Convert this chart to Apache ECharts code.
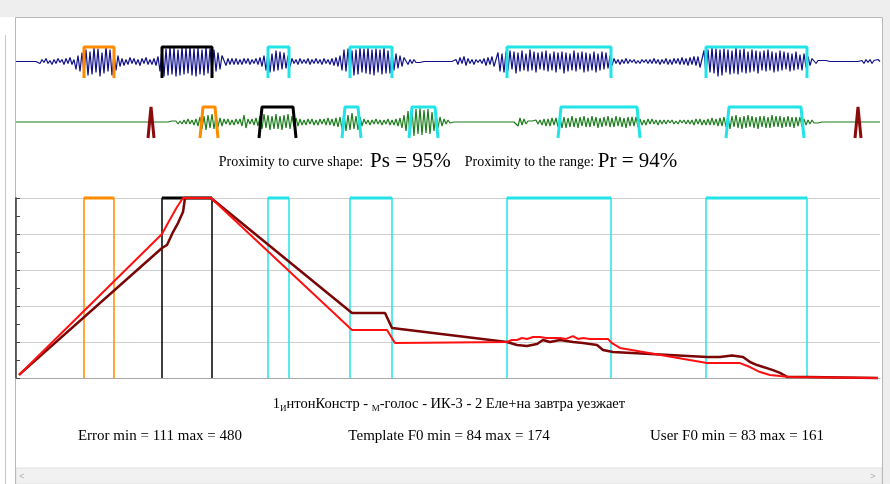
<!DOCTYPE html>
<html>
<head>
<meta charset="utf-8">
<script src="https://cdn.jsdelivr.net/npm/echarts@6/dist/echarts.min.js"></script>
<style>
html,body{margin:0;padding:0;background:#fff;}
#c{width:890px;height:484px;}
</style>
</head>
<body>
<div id="c"></div>
<script>
// ---------- DATA ----------
const X_MAX = 864;
// template waveform (navy), estimated samples
const templateWave = [
0,0,0,0,0,0,0,0,0,0,0,
1,-2,2,-1,3,-2,1,-3,2,-2,3,-1,2,-3,3,-2,4,-3,2,
-8,6,-10,9,-12,12,-14,10,-13,14,-11,13,-15,9,-12,15,-10,12,-14,8,-9,6,-5,
3,-4,2,-3,4,-2,3,-3,2,-4,3,-2,4,-3,2,-3,3,-4,5,
-10,14,-15,13,-14,15,-13,14,-15,12,-14,15,-13,14,-12,15,-14,13,-15,14,-13,12,-14,15,-12,13,-11,12,-10,9,-8,6,
4,-4,3,-3,3,-3,3,-3,2,-3,3,-2,3,-3,2,-2,3,-3,4,-5,6,
-9,10,-11,8,-10,11,-9,10,-8,9,-7,6,-5,
3,-2,2,-3,3,-2,2,-2,3,-3,2,-2,3,-2,2,-3,3,-2,2,-3,3,-4,4,-5,
6,-9,12,-10,13,-12,11,-14,12,-13,14,-11,13,-12,14,-13,12,-14,13,-11,12,-13,14,-12,11,-12,10,-9,8,-7,6,-5,4,
3,-3,2,-2,2,-1,1,-1,1,0,
0,0,0,0,0,0,0,0,0,0,0,0,0,0,0,
2,-3,4,-2,5,-4,3,-2,2,-3,2,-1,2,-2,3,-4,4,-3,5,-5,
-7,9,-10,8,-11,10,-9,11,-8,10,-12,9,-10,11,-9,8,-10,12,-9,10,-11,9,-8,10,-9,11,-10,8,-9,10,-11,9,-8,10,-12,9,-10,8,-9,11,-10,9,-8,10,-11,9,-10,8,-9,10,-11,8,-9,10,-8,9,-7,6,-4,
3,-2,2,-3,2,-2,3,-2,2,-1,2,-2,1,-2,2,-1,2,-2,2,-2,3,-2,2,-3,2,-2,3,-3,2,-3,3,-2,3,-3,4,-3,3,-4,4,-3,5,-4,5,-6,
-8,11,-13,12,-11,14,-12,13,-15,12,-14,13,-11,12,-13,11,-12,14,-13,12,-11,13,-12,10,-11,12,-10,11,-12,10,-9,11,-10,12,-9,10,-11,9,-10,11,-9,10,-8,9,-10,8,-9,10,-8,7,-9,8,-6,5,-4,3,
2,-2,1,-1,1,-1,1,0,0,0,0,0,0,0,0,0,0,0,0,0,0,0,0,0,
1,-2,2,-1,2,-2,1,-1,2,0
];
// user waveform (green), estimated samples
const userWave = [
0,0,0,0,0,0,0,0,0,0,0,0,0,0,0,0,0,0,0,0,0,0,0,0,0,0,0,0,0,0,0,0,0,0,0,0,0,0,0,0,
0,0,0,0,0,0,0,0,0,0,0,0,0,0,0,0,0,0,0,0,0,0,0,0,0,0,0,0,0,0,0,0,0,0,0,0,0,0,
1,-1,1,-2,1,-2,2,-2,3,-2,2,-3,3,-4,
5,-7,6,-8,7,-6,8,-7,6,-5,4,-4,
3,-2,3,-3,2,-3,3,-2,3,-4,7,-6,3,-2,3,-3,4,-4,
6,-7,8,-6,7,-8,6,-7,8,-7,6,-8,7,-6,8,-7,6,-5,4,-4,
3,-3,2,-3,3,-2,3,-3,2,-3,3,-2,3,-3,4,-3,3,-4,4,-5,5,
-7,8,-9,7,-8,9,-7,6,-8,5,-4,
3,-2,2,-3,2,-2,3,-2,2,-3,2,-2,3,-3,2,-3,3,-4,4,-6,7,
-9,11,-13,12,-14,13,-12,14,-13,12,-11,13,-12,10,-9,8,-6,5,
-4,3,-2,2,-1,1,
0,0,0,0,0,0,0,0,0,0,0,0,0,0,0,0,0,0,0,0,0,0,0,0,0,0,0,0,0,0,0,
2,-4,4,-3,3,-2,1,-1,
1,-1,2,-2,2,
-3,3,-4,3,-4,4,-3,4,-5,5,
-6,5,-6,4,-5,6,-5,4,-6,5,-4,6,-5,4,-5,6,-4,5,-6,4,-5,5,-4,6,-5,4,-5,6,-4,5,-5,4,-6,5,-4,5,-4,5,-5,
3,-3,2,-3,3,-2,3,-2,2,-3,2,-2,2,-2,2,-1,2,-2,1,-2,2,-1,2,-2,2,-2,
2,-3,3,-2,3,-3,2,-3,3,-3,4,-3,3,-4,4,-4,5,-5,
6,-7,6,-5,7,-6,5,-7,6,-6,7,-5,6,-6,5,-7,6,-5,6,-6,5,-6,7,-5,6,-5,6,-6,5,-5,6,-5,5,-6,5,-4,5,-5,
3,-3,2,-2,2,-1,1,-1,0,
0,0,0,0,0,0,0,0,0,0,0,0,0,0,0,0,0,0,0,0,0,0,0,0,0,0,0,0,0,0
];
// template segments (start, end) and their colours
const templateSegStart = [68, 146, 252, 334, 491, 690];
const templateSegEnd   = [98, 196, 273, 376, 595, 791];
const segColors = ['#ff8c00', '#000000', '#22e3e8', '#22e3e8', '#22e3e8', '#22e3e8'];
// user segments (start, end)
const userSegStart = [187, 246, 329, 396, 545, 713];
const userSegEnd   = [199, 277, 342, 419, 621, 785];
// user utterance boundary markers
const userMarkers = [135, 842];
// normalized F0 contours (x, value 0..100)
const userF0 = [
[3,1.7],[146,72.2],[151,73.9],[157,81.1],[162,86.1],[167,92.2],[169,100],[195,100],
[336,36.1],[369,36.1],[376,27.8],[491,20],[501,18.3],[511,17.8],[521,18.9],[527,21.1],
[534,20],[544,21.1],[557,20],[567,19.4],[581,18.3],[587,15.6],[597,14.4],[691,11.7],
[704,11.7],[716,12.5],[727,11.7],[734,8.9],[741,7.2],[757,4.4],[764,2.8],[771,0.6],[791,0.6],[862,0]
];
const templateF0 = [
[3,1.7],[146,80],[152,86.1],[161,95],[167,100],[195,100],[336,26.7],[371,26.7],[379,19.4],
[491,20],[496,21.1],[501,21.1],[506,22.2],[511,21.7],[517,22.8],[524,22.8],[530,22.2],
[537,22.2],[544,22.2],[550,21.7],[557,23.3],[562,21.7],[567,22.2],[574,21.7],[581,21.7],
[592,21.7],[596,19.4],[604,16.7],[691,8.3],[724,8.3],[734,6.1],[744,3.3],[754,1.7],[764,1.1],[774,0.6],[862,0]
];
const titleLine = 'Proximity to curve shape:';
const psText = 'Ps = 95%';
const rangeLine = 'Proximity to the range:';
const prText = 'Pr = 94%';
const statsTexts = ['Error min = 111 max = 480', 'Template F0 min = 84 max = 174', 'User F0 min = 83 max = 161'];

// ---------- BUILD ----------
const serif = "'Liberation Serif','Times New Roman',serif";
function wavePts(arr){ const step = X_MAX/(arr.length-1); return arr.map((v,i)=>[i*step, v]); }

const series = [];
series.push({type:'line', xAxisIndex:0, yAxisIndex:0, data:wavePts(templateWave), symbol:'none',
  lineStyle:{color:'#10108a', width:1.2}, silent:true, z:2});
series.push({type:'line', xAxisIndex:1, yAxisIndex:1, data:wavePts(userWave), symbol:'none',
  lineStyle:{color:'#1c7d1c', width:1.2}, silent:true, z:2});
templateSegStart.forEach((s,i)=>{
  const e = templateSegEnd[i];
  series.push({type:'line', xAxisIndex:0, yAxisIndex:0, clip:false, symbol:'none', z:3,
    data:[[s,-16.5],[s,14.5],[e,14.5],[e,-16.5]], lineStyle:{color:segColors[i], width:3}});
  series.push({type:'line', xAxisIndex:2, yAxisIndex:2, clip:false, symbol:'none', z:3,
    data:[[s,0],[s,100],[e,100],[e,0]], lineStyle:{color:segColors[i], width:1.5}});
  series.push({type:'line', xAxisIndex:2, yAxisIndex:2, clip:false, symbol:'none', z:3,
    data:[[s,100],[e,100]], lineStyle:{color:segColors[i], width:3}});
});
userSegStart.forEach((s,i)=>{
  const e = userSegEnd[i];
  series.push({type:'line', xAxisIndex:1, yAxisIndex:1, clip:false, symbol:'none', z:3,
    data:[[s-3,-16],[s,15],[e,15],[e+3,-16]], lineStyle:{color:segColors[i], width:3}});
});
userMarkers.forEach(m=>{
  series.push({type:'line', xAxisIndex:1, yAxisIndex:1, clip:false, symbol:'none', z:3,
    data:[[m-3,-16],[m,15],[m+3,-16]], lineStyle:{color:'#8b0a0a', width:3}});
});
series.push({type:'line', xAxisIndex:2, yAxisIndex:2, clip:false, symbol:'none', z:5,
  data:userF0, lineStyle:{color:'#7a0505', width:2.5}});
series.push({type:'line', xAxisIndex:2, yAxisIndex:2, clip:false, symbol:'none', z:6,
  data:templateF0, lineStyle:{color:'#ff1010', width:2}});

const hidden = {show:false};
const option = {
  animation:false,
  backgroundColor:'#ffffff',
  grid:[
    {left:16, width:864, top:43.5, height:36},
    {left:16, width:864, top:104, height:36},
    {left:16, width:864, top:198, height:180}
  ],
  xAxis:[
    {type:'value', gridIndex:0, min:0, max:X_MAX, show:false},
    {type:'value', gridIndex:1, min:0, max:X_MAX, show:false},
    {type:'value', gridIndex:2, min:0, max:X_MAX, axisLabel:hidden, axisTick:hidden, splitLine:hidden,
      axisLine:{show:true, lineStyle:{color:'#a8a8a8', width:1}}}
  ],
  yAxis:[
    {type:'value', gridIndex:0, min:-18, max:18, show:false},
    {type:'value', gridIndex:1, min:-18, max:18, show:false},
    {type:'value', gridIndex:2, min:0, max:100, interval:20, axisLabel:hidden,
      axisLine:{show:true, lineStyle:{color:'#333333', width:1.5}},
      axisTick:{show:true, inside:true, length:4, lineStyle:{color:'#444', width:1}},
      minorTick:{show:true, splitNumber:2, length:4, lineStyle:{color:'#444', width:1}},
      splitLine:{show:true, lineStyle:{color:'#cfcfcf', width:1}}}
  ],
  graphic:[
    {type:'rect', shape:{x:0,y:0,width:890,height:17}, style:{fill:'#eeeeee'}, z:-10},
    {type:'rect', shape:{x:883,y:0,width:7,height:484}, style:{fill:'#eeeeee'}, z:-10},
    {type:'line', shape:{x1:5.5,y1:35,x2:5.5,y2:484}, style:{stroke:'#c8c8c8', lineWidth:1}},
    {type:'rect', shape:{x:16,y:468,width:866,height:16}, style:{fill:'#f1f1f1', stroke:'#e0e0e0'}},
    {type:'rect', shape:{x:15.5,y:17.5,width:867,height:470}, style:{fill:null, stroke:'#b8b8b8', lineWidth:1}},
    {type:'text', x:22, y:477, style:{text:'<', font:'9px sans-serif', fill:'#b0b0b0', align:'center', verticalAlign:'middle'}},
    {type:'text', x:873, y:477, style:{text:'>', font:'9px sans-serif', fill:'#b0b0b0', align:'center', verticalAlign:'middle'}},
    {type:'text', x:448, y:161, style:{
      text:'{s|'+titleLine+'  }{b|'+psText+'}{s|    '+rangeLine+' }{b|'+prText+'}',
      align:'center', verticalAlign:'middle', fill:'#000',
      rich:{
        s:{fontFamily:serif, fontSize:14, fill:'#000', verticalAlign:'bottom', padding:[0,0,2,0]},
        b:{fontFamily:serif, fontSize:21, fill:'#000', verticalAlign:'bottom'}
      }}},
    {type:'text', x:449, y:405, style:{
      text:'{n|1}{u|И}{n|нтонКонстр - }{u|М}{n|-голос - ИК-3 - 2 Еле+на завтра уезжает}',
      align:'center', verticalAlign:'middle', fill:'#000',
      rich:{
        n:{fontFamily:serif, fontSize:14.5, fill:'#000', verticalAlign:'bottom', padding:[0,0,2,0]},
        u:{fontFamily:serif, fontSize:9, fill:'#000', verticalAlign:'bottom'}
      }}},
    {type:'text', x:160, y:436, style:{text:statsTexts[0], font:'15px '+serif, fill:'#000', align:'center', verticalAlign:'middle'}},
    {type:'text', x:449, y:436, style:{text:statsTexts[1], font:'15px '+serif, fill:'#000', align:'center', verticalAlign:'middle'}},
    {type:'text', x:737, y:436, style:{text:statsTexts[2], font:'15px '+serif, fill:'#000', align:'center', verticalAlign:'middle'}}
  ],
  series: series
};
const chart = echarts.init(document.getElementById('c'), null, {renderer:'canvas'});
chart.setOption(option);
</script>
</body>
</html>
